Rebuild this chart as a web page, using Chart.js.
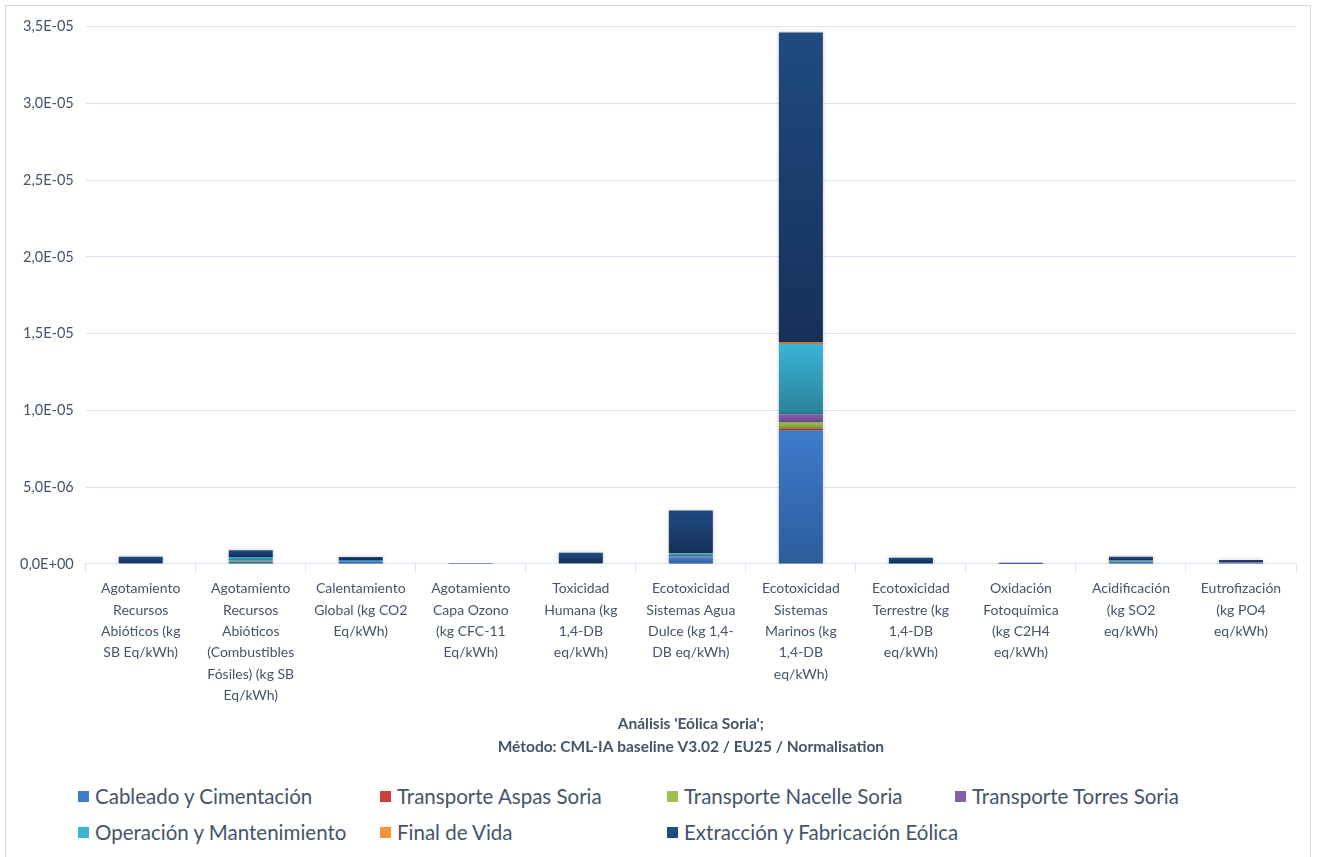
<!DOCTYPE html>
<html lang="es">
<head>
<meta charset="UTF-8">
<title>Análisis Eólica Soria</title>
<script src="https://cdn.jsdelivr.net/npm/chart.js@4"></script>
<style>
  body { margin: 0; background: #fff; font-family: Lato, 'Open Sans', sans-serif; }
  .frame {
    position: absolute; left: 5px; top: 5px; width: 1306px; height: 860px;
    border: 1px solid #D9D9D9; box-sizing: border-box;
  }
  .plot { position: absolute; left: 0; top: 0; width: 1306px; height: 757px; }
  .legend { position: absolute; left: 0; top: 772px; width: 1306px; }
  .legend .item {
    position: absolute; display: flex; align-items: center;
    font-size: 20.5px; color: #44546A; white-space: nowrap; height: 24px;
  }
  .legend .box { width: 11px; height: 11px; margin-right: 6px; }
</style>
</head>
<body>
<div class="frame">
  <div class="plot"><canvas id="chart"></canvas></div>
  <div class="legend" id="legend"></div>
</div>
<script>
// impact categories (x axis), wrapped the same way as the labels under each bar
const categories = [
  ['Agotamiento', 'Recursos', 'Abióticos (kg', 'SB Eq/kWh)'],
  ['Agotamiento', 'Recursos', 'Abióticos', '(Combustibles', 'Fósiles) (kg SB', 'Eq/kWh)'],
  ['Calentamiento', 'Global (kg CO2', 'Eq/kWh)'],
  ['Agotamiento', 'Capa Ozono', '(kg CFC-11', 'Eq/kWh)'],
  ['Toxicidad', 'Humana (kg', '1,4-DB', 'eq/kWh)'],
  ['Ecotoxicidad', 'Sistemas Agua', 'Dulce (kg 1,4-', 'DB eq/kWh)'],
  ['Ecotoxicidad', 'Sistemas', 'Marinos (kg', '1,4-DB', 'eq/kWh)'],
  ['Ecotoxicidad', 'Terrestre (kg', '1,4-DB', 'eq/kWh)'],
  ['Oxidación', 'Fotoquímica', '(kg C2H4', 'eq/kWh)'],
  ['Acidificación', '(kg SO2', 'eq/kWh)'],
  ['Eutrofización', '(kg PO4', 'eq/kWh)']
];

// normalised results per life-cycle stage
const cableado   = [3e-8, 1.5e-7, 1.7e-7, 0, 3e-8, 4.2e-7, 8.7e-6, 2e-8, 1e-8, 1.3e-7, 5e-8];
const aspas      = [0, 0, 0, 0, 0, 1e-8, 1.3e-7, 0, 0, 0, 0];
const nacelle    = [0, 6e-8, 1e-8, 0, 0, 1e-8, 3.9e-7, 0, 0, 1e-8, 0];
const torres     = [0, 1e-8, 1e-8, 0, 0, 4e-8, 5.4e-7, 0, 0, 2e-8, 6e-8];
const operacion  = [1e-8, 2.4e-7, 7e-8, 0, 2e-8, 2.1e-7, 4.57e-6, 5e-8, 0, 6e-8, 1e-8];
const finalVida  = [0, 0, 0, 0, 0, 1e-8, 1e-7, 0, 0, 0, 0];
const extraccion = [4.3e-7, 4.3e-7, 2e-7, 2e-9, 6.8e-7, 2.78e-6, 2.02e-5, 3.4e-7, 7e-8, 2.5e-7, 1.4e-7];

const yTicksMax = 3.5e-5;
const yTicksStep = 5e-6;

// [label, data, top colour, bottom colour]
const series = [
  ['Cableado y Cimentación', cableado, '#3F7BCC', '#2C5C9B'],
  ['Transporte Aspas Soria', aspas, '#C9403A', '#A82E2B'],
  ['Transporte Nacelle Soria', nacelle, '#9CC04A', '#7FA036'],
  ['Transporte Torres Soria', torres, '#8460AC', '#6A4B8E'],
  ['Operación y Mantenimiento', operacion, '#3AB5D7', '#2A8299'],
  ['Final de Vida', finalVida, '#F7923A', '#DA7624'],
  ['Extracción y Fabricación Eólica', extraccion, '#1F4B80', '#16305A']
];

// vertical gradient spanning just the stacked segment
function segmentGradient(top, bottom) {
  return (ctx) => {
    if (ctx.type !== 'data') return top;
    const chart = ctx.chart;
    const y = chart.scales.y;
    if (!y || !chart.chartArea) return top;
    let base = 0;
    for (let d = 0; d < ctx.datasetIndex; d++) base += chart.data.datasets[d].data[ctx.dataIndex];
    const v = chart.data.datasets[ctx.datasetIndex].data[ctx.dataIndex];
    const y0 = y.getPixelForValue(base + v);
    const y1 = y.getPixelForValue(base);
    if (!(y1 - y0 > 0.5)) return top;
    const g = chart.ctx.createLinearGradient(0, y0, 0, y1);
    g.addColorStop(0, top);
    g.addColorStop(1, bottom);
    return g;
  };
}

function sciLabel(v) {
  const [m, e] = Number(v).toExponential(1).split('e');
  const sign = e[0] === '-' ? '-' : '+';
  const exp = e.replace(/[+-]/, '').padStart(2, '0');
  return m.replace('.', ',') + 'E' + sign + exp;
}

// soft shadow around the bars
const barShadow = {
  id: 'barShadow',
  beforeDatasetsDraw(chart) {
    const c = chart.ctx;
    c.save();
    c.shadowColor = 'rgba(0, 0, 0, 0.22)';
    c.shadowBlur = 4;
  },
  afterDatasetsDraw(chart) {
    chart.ctx.restore();
  }
};

const textColor = '#44546A';
const gridColor = '#D9E2F1';

const chart = new Chart(document.getElementById('chart'), {
  type: 'bar',
  data: {
    labels: categories,
    datasets: series.map(([label, data, top, bottom]) => ({
      label,
      data,
      swatch: top,
      backgroundColor: segmentGradient(top, bottom),
      borderWidth: 0,
      barPercentage: 0.4,
      categoryPercentage: 1
    }))
  },
  options: {
    responsive: true,
    maintainAspectRatio: false,
    animation: false,
    layout: { padding: { top: 6, left: 2, right: 16, bottom: 4 } },
    plugins: { legend: { display: false }, tooltip: { enabled: false } },
    scales: {
      x: {
        stacked: true,
        grid: { offset: true, drawOnChartArea: false, drawTicks: true, tickLength: 8, color: gridColor },
        border: { color: gridColor },
        ticks: {
          color: textColor, font: { family: 'Lato', size: 14, lineHeight: 1.53 },
          maxRotation: 0, autoSkip: false, padding: 6
        },
        title: {
          display: true,
          text: ["Análisis 'Eólica Soria';", 'Método: CML-IA baseline V3.02 / EU25 / Normalisation'],
          color: textColor,
          font: { family: 'Lato', size: 15.5, weight: 'bold', lineHeight: 1.5 },
          padding: { top: 0, bottom: 0 }
        }
      },
      y: {
        stacked: true,
        min: 0,
        max: yTicksMax,
        grid: { color: gridColor, drawTicks: false },
        border: { display: false },
        ticks: {
          stepSize: yTicksStep, color: textColor, padding: 12,
          font: { family: 'Lato', size: 14.5 },
          callback: sciLabel
        }
      }
    }
  },
  plugins: [barShadow]
});

// legend laid out in fixed columns, two rows
const legendCols = [72, 374, 661, 949];
const legendRows = [6, 42];
const legendEl = document.getElementById('legend');
chart.data.datasets.forEach((ds, i) => {
  const item = document.createElement('div');
  item.className = 'item';
  item.style.left = legendCols[i % 4] + 'px';
  item.style.top = legendRows[Math.floor(i / 4)] + 'px';
  const box = document.createElement('span');
  box.className = 'box';
  box.style.background = ds.swatch;
  item.appendChild(box);
  item.appendChild(document.createTextNode(ds.label));
  legendEl.appendChild(item);
});
</script>
</body>
</html>
